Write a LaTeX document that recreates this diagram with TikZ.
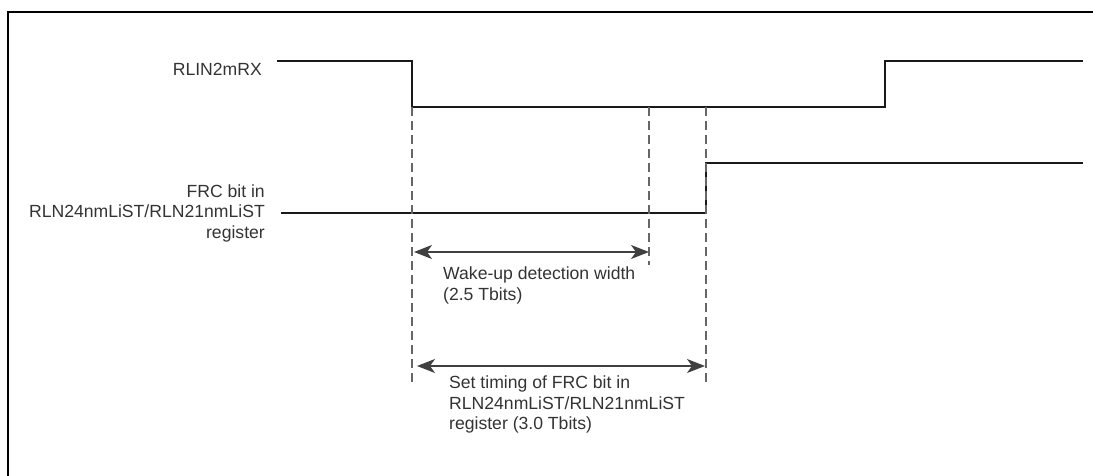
\documentclass[tikz,border=0pt]{standalone}
\usepackage{fontspec}
\setmainfont{Liberation Sans}
\usetikzlibrary{arrows.meta}

\begin{document}
\begin{tikzpicture}[x=1pt,y=-1pt,font=\fontsize{17.6}{20.5}\selectfont,
  sig/.style={line width=2.6pt,black!90},
  guide/.style={dash pattern=on 9pt off 5pt,line width=1.2pt,black!60},
  span/.style={{Stealth[length=18pt,width=14pt,inset=5pt]}-{Stealth[length=18pt,width=14pt,inset=5pt]},line width=1.4pt,black!75},
  lbl/.style={align=right,anchor=east,text=black!80,inner sep=0pt},
  note/.style={align=left,anchor=north west,text=black!80,inner sep=0pt}]
\useasboundingbox (0,0) rectangle (1093,476);
\draw[line width=2.6pt] (8,476) -- (8,12) -- (1093,12);
% time points
\coordinate (rxA) at (277,61);  \coordinate (rxB) at (412,61);
\coordinate (rxC) at (412,107); \coordinate (rxD) at (885,107);
\coordinate (rxE) at (885,61);  \coordinate (rxF) at (1083,61);
\coordinate (frA) at (281,213); \coordinate (frB) at (706,213);
\coordinate (frC) at (706,163); \coordinate (frD) at (1083,163);
\coordinate (wake) at (649,107); \coordinate (setp) at (706,107);
\coordinate (g1) at (412,385); \coordinate (g2) at (649,265); \coordinate (g3) at (706,385);
% signals
\draw[sig] (rxA) -- (rxB) -- (rxC) -- (rxD) -- (rxE) -- (rxF);
\draw[sig] (frA) -- (frB) -- (frC) -- (frD);
\node[lbl] (rx) at (262,69) {RLIN2mRX};
\node[lbl] (frc) at (265,213) {FRC bit in\\RLN24nmLiST/RLN21nmLiST\\register};
% guides
\draw[guide] (rxC) -- (g1);
\draw[guide] (wake) -- (g2);
\draw[guide] (setp) -- (g3);
% spans
\coordinate (w0) at (414,252); \coordinate (w1) at (649,252);
\coordinate (s0) at (417,366); \coordinate (s1) at (705,366);
\draw[span] (w0) -- (w1);
\draw[span] (s0) -- (s1);
\node[note] (wnote) at (443,267) {Wake-up detection width\\(2.5 Tbits)};
\node[note] (snote) at (449,376) {Set timing of FRC bit in\\RLN24nmLiST/RLN21nmLiST\\register (3.0 Tbits)};
\end{tikzpicture}
\end{document}
